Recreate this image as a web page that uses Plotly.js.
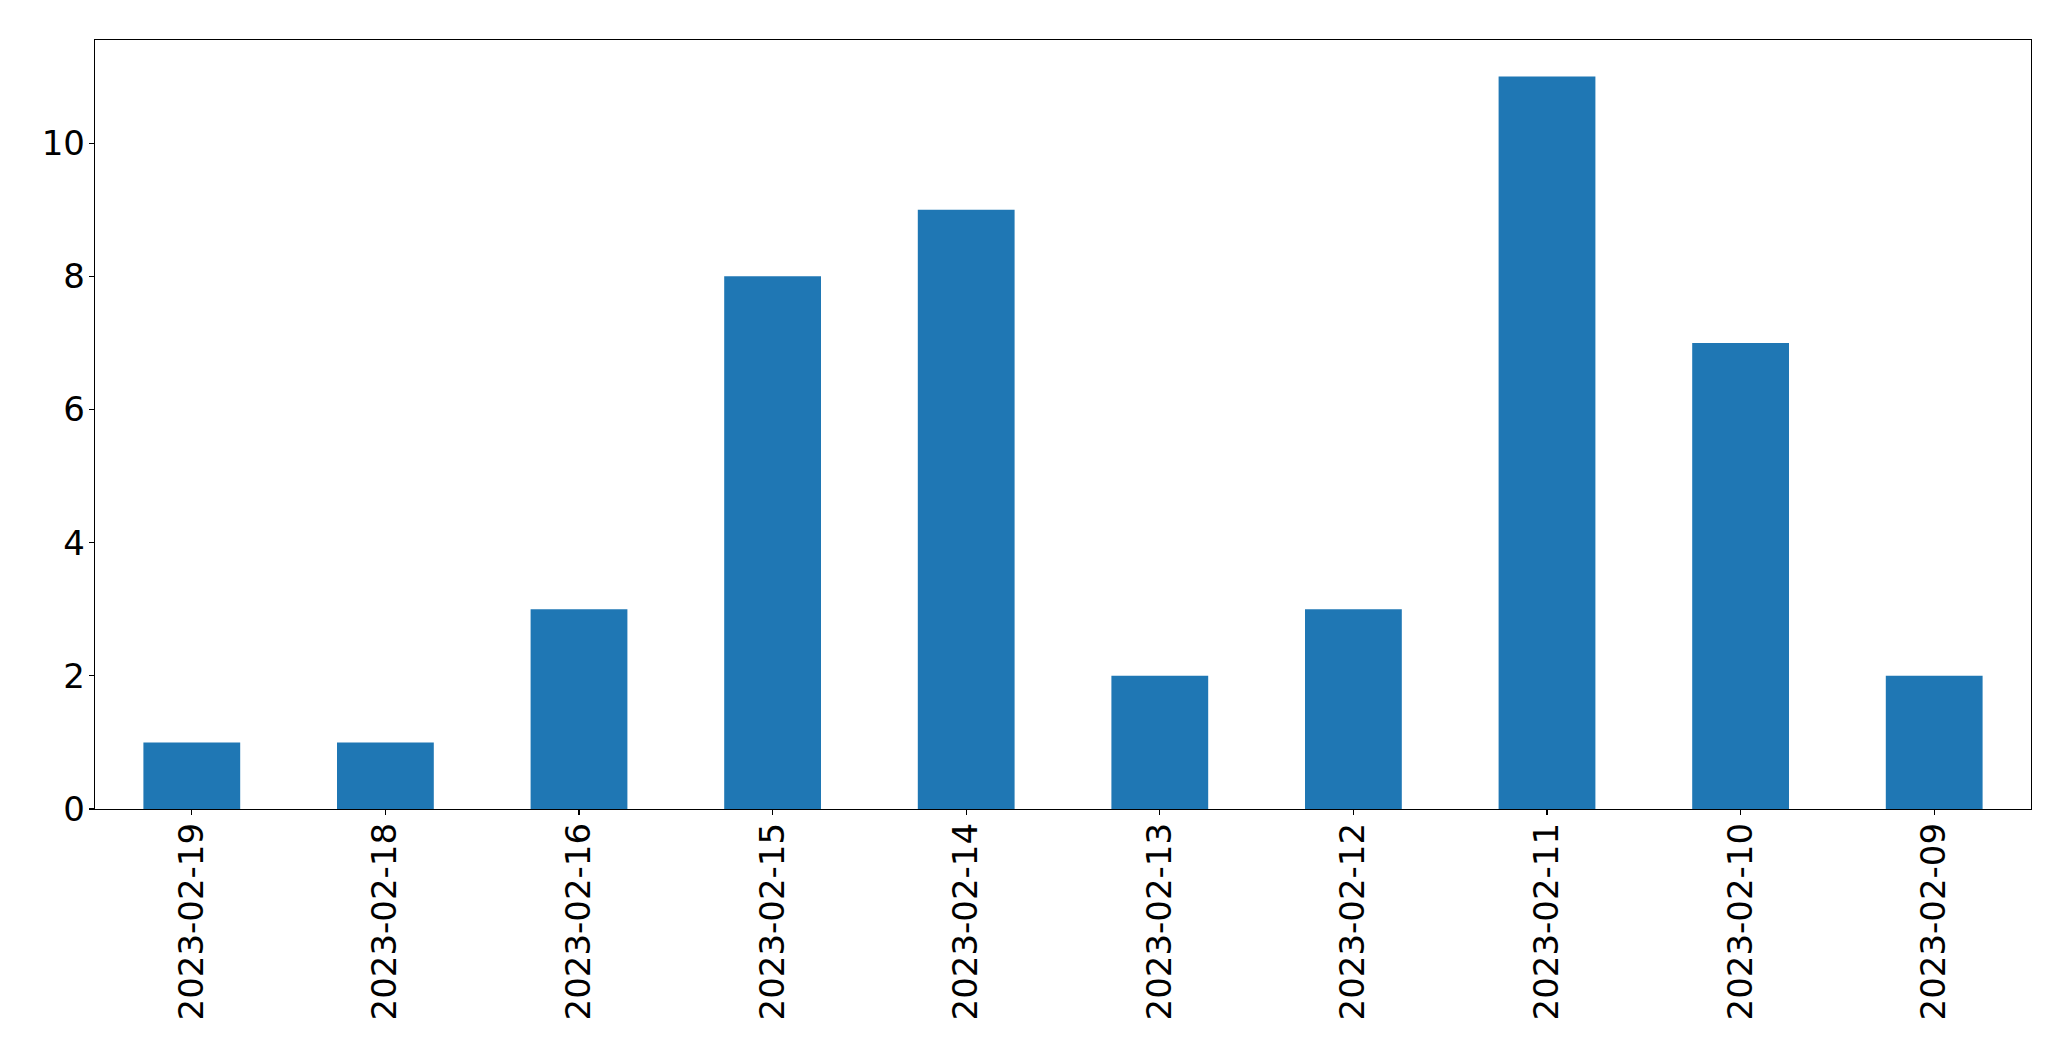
<!DOCTYPE html>
<html>
<head>
<meta charset="utf-8">
<script src="https://cdn.plot.ly/plotly-3.0.1.min.js"></script>
<style>html,body{margin:0;padding:0;background:#fff;}#chart{width:2071px;height:1061px;}</style>
</head>
<body>
<div id="chart"></div>
<script>
const dates = ["2023-02-19","2023-02-18","2023-02-16","2023-02-15","2023-02-14","2023-02-13","2023-02-12","2023-02-11","2023-02-10","2023-02-09"];
const counts = [1,1,3,8,9,2,3,11,7,2];
const yTicks = [0,2,4,6,8,10];

const trace = {
  type: 'bar',
  x: dates,
  y: counts,
  width: 0.5,
  marker: {color: '#1f77b4', line: {width: 0}},
  hoverinfo: 'x+y'
};

const axisFont = {family: 'DejaVu Sans, sans-serif', size: 34, color: '#000'};

const layout = {
  width: 2071,
  height: 1061,
  paper_bgcolor: '#fff',
  plot_bgcolor: '#fff',
  showlegend: false,
  margin: {l: 95, r: 40, t: 40, b: 252, pad: 0},
  xaxis: {
    type: 'category',
    range: [-0.5, 9.5],
    tickangle: -90,
    tickfont: axisFont,
    ticks: 'outside',
    ticklen: 5,
    tickwidth: 1.3,
    tickcolor: '#000',
    showline: true,
    mirror: true,
    linecolor: '#000',
    linewidth: 1.3,
    showgrid: false,
    zeroline: false,
    ticklabelstandoff: -6
  },
  yaxis: {
    range: [0, 11.55],
    tickvals: yTicks,
    ticktext: yTicks.map(String),
    tickfont: axisFont,
    ticks: 'outside',
    ticklen: 5,
    tickwidth: 1.3,
    tickcolor: '#000',
    showline: true,
    mirror: true,
    linecolor: '#000',
    linewidth: 1.3,
    showgrid: false,
    zeroline: false,
    ticklabelstandoff: -3
  }
};

Plotly.newPlot('chart', [trace], layout, {displayModeBar: false, staticPlot: true});
</script>
</body>
</html>
